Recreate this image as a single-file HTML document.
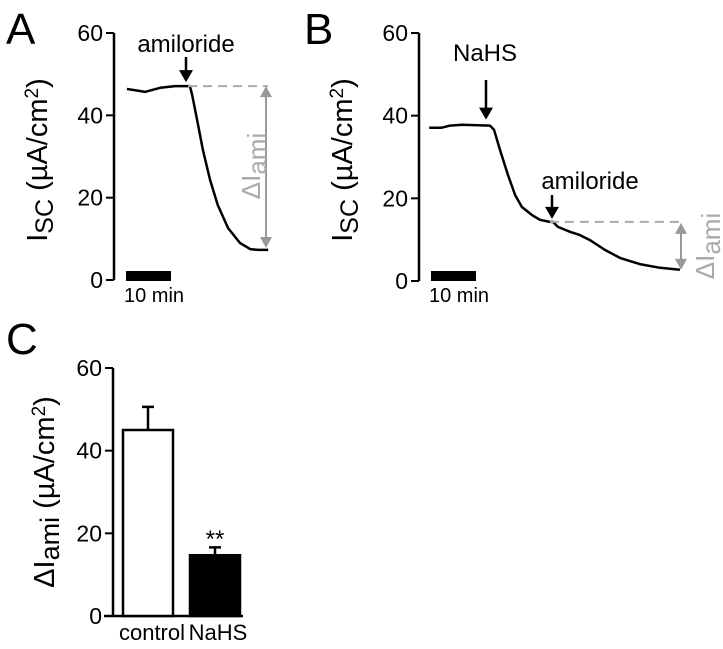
<!DOCTYPE html>
<html><head><meta charset="utf-8"><style>
body{margin:0;background:#fff;}
svg{display:block;font-family:"Liberation Sans",Arial,sans-serif;}
</style></head><body>
<svg id="fig" width="723" height="649" viewBox="0 0 723 649">
<g id="A"></g>
<g id="B"></g>
<g id="C"></g>
</svg>
<script>
const yTicks=[0,20,40,60];
const aTime=[0.2,3.1,4.2,7.6,10.9,13.8,14.2,14.7,15.8,17.1,18.7,20.4,22.7,25.3,27.6,29.3,31.6];
const aIsc=[46.4,45.9,45.7,46.7,47.1,47.1,47.1,45.0,38.9,31.6,24.3,18.2,12.6,9.0,7.5,7.3,7.3];
const bTime=[-0.4,2.4,4.2,6.9,13.1,14,15.3,17.1,18.7,20.2,22.4,24.2,26.4,27.1,28.2,30.9,33.1,35.3,38.7,42,46.4,50.9,55.3];
const bIsc=[37.1,37.1,37.6,37.8,37.6,36.6,31.8,25.7,20.8,17.9,16.0,14.8,14.3,14.3,13.1,11.9,11.1,9.9,7.5,5.6,4.1,3.2,2.7];
const cCategories=["control","NaHS"];
const cValues=[45,14.7];
const cErrors=[5.6,1.9];
const NS="http://www.w3.org/2000/svg";
function mk(p,t,a,txt){const e=document.createElementNS(NS,t);for(const k in a)e.setAttribute(k,a[k]);if(txt!=null)e.textContent=txt;p.appendChild(e);return e;}
function yAxis(g,ax,y0,y60){
  const ys=v=>y0+(y60-y0)*v/60;
  const l=mk(g,'line',{x1:ax,y1:ys(0),x2:ax,y2:ys(60),stroke:'#000','stroke-width':2.5});
  
  
  yTicks.forEach(v=>{
    const t=mk(g,'line',{x1:ax-8,y1:ys(v),x2:ax,y2:ys(v),stroke:'#000','stroke-width':2});
    
    
    const tx=mk(g,'text',{x:ax-11,y:ys(v)+8,'text-anchor':'end','font-size':23},String(v));
    
    
  });
  return ys;
}
function iscTitle(g,x,y){
  const t=mk(g,'text',{transform:`translate(${x},${y}) rotate(-90)`,'text-anchor':'middle','font-size':29});
  
  
  t.innerHTML='I<tspan font-size="25" dy="6">SC</tspan><tspan dy="-6"> (µA/cm</tspan><tspan font-size="19" dy="-9">2</tspan><tspan dy="9">)</tspan>';
}
function arrow(g,x,y1,y2,name){
  const l=mk(g,'line',{x1:x,y1:y1,x2:x,y2:y2-8,stroke:'#000','stroke-width':2.5});
  
  
  const p=mk(g,'path',{d:`M${x-7},${y2-12} L${x+7},${y2-12} L${x},${y2} Z`,fill:'#000'});
  
  
}
function grayArrow(g,x,y1,y2){
  const l=mk(g,'line',{x1:x,y1:y1+8,x2:x,y2:y2-8,stroke:'#999','stroke-width':2});
  
  
  mk(g,'path',{d:`M${x-6},${y1+11} L${x+6},${y1+11} L${x},${y1} Z`,fill:'#999'});
  mk(g,'path',{d:`M${x-6},${y2-11} L${x+6},${y2-11} L${x},${y2} Z`,fill:'#999'});
}
function deltaText(g,x,y){
  const t=mk(g,'text',{transform:`translate(${x},${y}) rotate(-90)`,'text-anchor':'middle','font-size':26,fill:'#aaa'});
  
  
  t.innerHTML='ΔI<tspan dy="6">ami</tspan>';
}
function label(g,x,y,s,size,name,anchor){
  const t=mk(g,'text',{x:x,y:y,'font-size':size,'text-anchor':anchor||'middle'},s);
  
  
  return t;
}
function trace(g,ts,vs,xs,ys){
  const d=ts.map((t,i)=>(i?'L':'M')+xs(t).toFixed(1)+','+ys(vs[i]).toFixed(1)).join(' ');
  const p=mk(g,'path',{d:d,fill:'none',stroke:'#000','stroke-width':2.5,'stroke-linejoin':'round'});
  
  
}
function scaleBar(g,x,y){
  const r=mk(g,'rect',{x:x,y:y,width:45,height:10,fill:'#000'});
  
  
  label(g,x-2,y+31,'10 min',20,'scale-bar-label','start');
}
// Panel A
const gA=document.getElementById('A');
label(gA,6,44,'A',44,'panel-label-a','start');
const ysA=yAxis(gA,114,280,33);
const xsA=t=>126+4.5*t;
iscTitle(gA,47,160);
trace(gA,aTime,aIsc,xsA,ysA);
const aEnd=aTime.length-1;
const aStart=aIsc[5];
const dA=mk(gA,'line',{x1:xsA(aTime[5]),y1:ysA(aStart),x2:xsA(aTime[aEnd]),y2:ysA(aStart),stroke:'#aaa','stroke-width':2,'stroke-dasharray':'9,6'});


grayArrow(gA,266,ysA(aStart),ysA(aIsc[aEnd])-2);
deltaText(gA,260,166);
label(gA,186,52,'amiloride',24,'amiloride-label');
arrow(gA,186,57,ysA(aStart)-4,'amiloride-arrow');
scaleBar(gA,126,271);
// Panel B
const gB=document.getElementById('B');
label(gB,304,44,'B',44,'panel-label-b','start');
const ysB=yAxis(gB,419,281,33);
const xsB=t=>431+4.5*t;
iscTitle(gB,352,160);
trace(gB,bTime,bIsc,xsB,ysB);
const bEnd=bTime.length-1;
const bAm=bIsc[12];
const dB=mk(gB,'line',{x1:xsB(bTime[12]),y1:ysB(bAm),x2:xsB(bTime[bEnd]),y2:ysB(bAm),stroke:'#aaa','stroke-width':2,'stroke-dasharray':'9,6'});


grayArrow(gB,681,ysB(bAm)+1,ysB(bIsc[bEnd]));
deltaText(gB,714,246);
label(gB,485,61,'NaHS',24,'nahs-label');
arrow(gB,486,80,ysB(bIsc[4])-6,'nahs-arrow');
label(gB,590,189,'amiloride',24,'amiloride-label');
arrow(gB,552,195,ysB(bAm)-3,'amiloride-arrow');
scaleBar(gB,431,271);
// Panel C
const gC=document.getElementById('C');
label(gC,6,354,'C',44,'panel-label-c','start');
const ysC=yAxis(gC,113,616,368);
const xl=mk(gC,'line',{x1:104,y1:616,x2:243,y2:616,stroke:'#000','stroke-width':2.5});


const yt=mk(gC,'text',{transform:'translate(54,492) rotate(-90)','text-anchor':'middle','font-size':29});


yt.innerHTML='ΔI<tspan font-size="27" dy="5">ami</tspan><tspan dy="-5"> (µA/cm</tspan><tspan font-size="19" dy="-9">2</tspan><tspan dy="9">)</tspan>';
const bx=[123,190], bw=50;
cCategories.forEach((c,i)=>{
  const top=ysC(cValues[i]);
  const r=mk(gC,'rect',{x:bx[i],y:top,width:bw,height:616-top,fill:i?'#000':'#fff',stroke:'#000','stroke-width':2.5});
  
  
  const cx=bx[i]+bw/2, et=ysC(cValues[i]+cErrors[i]);
  const e=mk(gC,'path',{d:`M${cx},${top} L${cx},${et} M${cx-6},${et} L${cx+6},${et}`,stroke:'#000','stroke-width':2.5,fill:'none'});
  
  
  label(gC,cx+(i?3:4),640,c,22,'x-label-'+c.toLowerCase());
});
label(gC,bx[1]+bw/2,547,'**',24,'significance-marker');
</script>
</body></html>
